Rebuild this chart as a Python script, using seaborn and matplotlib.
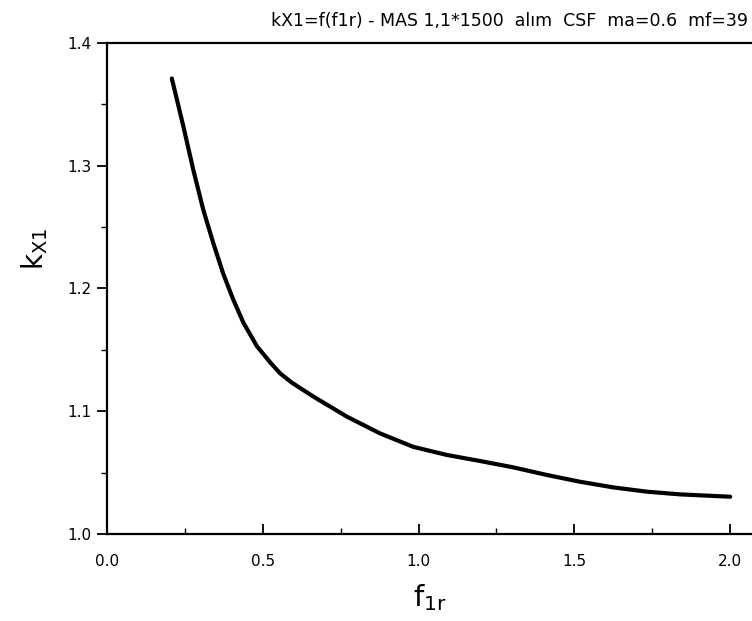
import matplotlib
matplotlib.use("Agg")
import matplotlib.pyplot as plt
import seaborn as sns
import pandas as pd
from matplotlib.ticker import MultipleLocator

f1r = [0.208, 0.245, 0.277, 0.309, 0.341, 0.373, 0.405, 0.438, 0.481, 0.523,
       0.555, 0.592, 0.662, 0.770, 0.876, 0.983, 1.091, 1.197, 1.304, 1.412,
       1.518, 1.625, 1.733, 1.840, 2.000]
kX1 = [1.371, 1.332, 1.2965, 1.264, 1.237, 1.212, 1.191, 1.172, 1.153, 1.140,
       1.131, 1.1235, 1.112, 1.0956, 1.082, 1.071, 1.0644, 1.0595, 1.0543, 1.0481,
       1.0426, 1.038, 1.0345, 1.0323, 1.0304]
xticks = [0.0, 0.5, 1.0, 1.5, 2.0]
xticklabels = ["0.0", "0.5", "1.0", "1.5", "2.0"]
yticks = [1.0, 1.1, 1.2, 1.3, 1.4]
yticklabels = ["1.0", "1.1", "1.2", "1.3", "1.4"]
title = "kX1=f(f1r) - MAS 1,1*1500  alım  CSF  ma=0.6  mf=39"

sns.set_style("ticks")
plt.rcParams['font.family'] = ['DejaVu Sans']
plt.rcParams['mathtext.fontset'] = 'custom'
plt.rcParams['mathtext.rm'] = 'Liberation Sans'
plt.rcParams['mathtext.it'] = 'Liberation Sans'
plt.rcParams['text.color'] = 'black'
plt.rcParams['axes.labelcolor'] = 'black'
plt.rcParams['xtick.color'] = 'black'
plt.rcParams['ytick.color'] = 'black'

df = pd.DataFrame({"f1r": f1r, "kX1": kX1})

fig = plt.figure(figsize=(7.52, 6.21), dpi=100)
ax = fig.add_axes([0.1423, 0.140, 1.0 - 0.1423, 0.931 - 0.140])
sns.lineplot(data=df, x="f1r", y="kX1", ax=ax, color="black", linewidth=3.0)

ax.set_xlim(0, 2.07)
ax.set_ylim(1.0, 1.4)
ax.set_xticks(xticks)
ax.set_xticklabels(xticklabels)
ax.set_yticks(yticks)
ax.set_yticklabels(yticklabels)
ax.xaxis.set_minor_locator(MultipleLocator(0.25))
ax.yaxis.set_minor_locator(MultipleLocator(0.05))

ax.tick_params(axis='x', which='major', direction='in', length=7, width=1.3, labelsize=11, pad=14, colors='black')
ax.tick_params(axis='x', which='minor', direction='in', length=4, width=1.0, colors='black')
ax.tick_params(axis='y', which='major', direction='out', length=7, width=1.3, labelsize=11, pad=4, colors='black')
ax.tick_params(axis='y', which='minor', direction='out', length=4, width=1.0, colors='black')

for s in ['left', 'bottom', 'top']:
    ax.spines[s].set_linewidth(1.6)
    ax.spines[s].set_color('black')
ax.spines['right'].set_visible(False)
ax.spines['top'].set_visible(True)

ax.set_xlabel(r"$\mathregular{f_{1r}}$", fontsize=21, labelpad=10, color='black')
ax.set_ylabel(r"$\mathregular{k_{X1}}$", fontsize=20, color='black')
ax.yaxis.set_label_coords(-0.0886, 0.58)

fig.text(0.995, 1 - 26 / 621, title, ha='right', va='baseline', fontsize=12.5, color='black')

fig.savefig("out.png", dpi=100)
